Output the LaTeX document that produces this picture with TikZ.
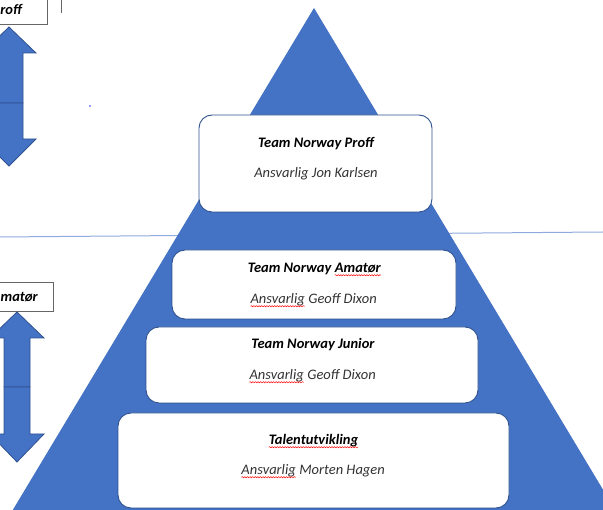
\documentclass[tikz,border=0pt]{standalone}
\usepackage{fontspec}
\setmainfont{Carlito}[ItalicFont={Carlito Italic}, BoldFont={Carlito Bold}, BoldItalicFont={Carlito Bold Italic}]
\usetikzlibrary{decorations.pathmorphing}
\newcommand\spellwave[1]{\tikz[baseline=(w.base)]{\node[inner sep=0pt, outer sep=0pt, anchor=base west, draw=none] (w) at (0,0) {#1};
  \draw[red, line width=0.5pt, decorate, decoration={snake, amplitude=0.6pt, segment length=2.6pt}] ([yshift=-2.2pt]w.base west) -- ([yshift=-2.2pt]w.base east);}}
\definecolor{pyrblue}{HTML}{4472C4}
\definecolor{edgeblue}{HTML}{2F528F}
\definecolor{lineblue}{HTML}{8FAADC}
\tikzset{
  tbox/.style={draw=edgeblue, line width=0.9pt, fill=white, rounded corners=13pt, inner sep=0pt},
  ttl/.style={font=\fontsize{14.5}{17}\selectfont\bfseries\itshape, anchor=base, inner sep=0pt},
  sub/.style={font=\fontsize{14.5}{17}\selectfont\itshape, text=black!80, anchor=base, inner sep=0pt},
  sidebox/.style={draw=gray!80!black, line width=0.8pt, fill=white},
  arr/.style={fill=pyrblue, draw=edgeblue, line width=0.8pt, line join=miter}
}
\begin{document}
\begin{tikzpicture}[x=1pt,y=-1pt]
\useasboundingbox (0,0) rectangle (603,510);
\clip (0,0) rectangle (603,510);
% thin horizontal line behind pyramid
\coordinate (la) at (0,237);
\coordinate (lb) at (603,232);
\draw[lineblue, line width=1pt] (la) -- (lb);
% pyramid
\fill[pyrblue] (314,8) -- (2,528) -- (626,528) -- cycle;
% boxes
\node[tbox, minimum width=233pt, minimum height=97pt] (b1) at (315.5,163.5) {};
\node[tbox, minimum width=284pt, minimum height=69pt] (b2) at (314,284.5) {};
\node[tbox, minimum width=332pt, minimum height=76pt] (b3) at (312,365) {};
\node[tbox, minimum width=391pt, minimum height=95pt] (b4) at (313.5,460.5) {};
% texts
\node[ttl] (t1) at (316,148) {Team Norway Proff};
\node[sub] (s1) at (316,178) {Ansvarlig Jon Karlsen};
\node[ttl] (t2) at (314.5,273) {Team Norway \spellwave{Amatør}};
\node[sub] (s2) at (313.5,304) {\spellwave{Ansvarlig} Geoff Dixon};
\node[ttl] (t3) at (313,349) {Team Norway Junior};
\node[sub] (s3) at (312.5,380) {\spellwave{Ansvarlig} Geoff Dixon};
\node[ttl] (t4) at (313.5,445) {\spellwave{Talentutvikling}};
\node[sub] (s4) at (313,475) {\spellwave{Ansvarlig} Morten Hagen};
% left side boxes
\draw[sidebox] (-10,-10) rectangle (47,24);
\node[ttl, anchor=base east] (lp) at (22,15) {roff};
\draw[gray!80!black, line width=0.8pt] (61,-2) -- (61,13);
\draw[sidebox] (-10,282) rectangle (53,311);
\node[ttl, anchor=base east] (la2) at (38,302) {matør};
% double arrows
\draw[arr] (23,103) -- (23,53) -- (36,53) -- (9,27) -- (-18,53) -- (-5,53) -- (-5,103) -- cycle;
\draw[arr] (23,103) -- (23,139) -- (36,139) -- (9,166) -- (-18,139) -- (-5,139) -- (-5,103) -- cycle;
\draw[arr] (30,387) -- (30,338) -- (44,338) -- (17,312) -- (-10,338) -- (4,338) -- (4,387) -- cycle;
\draw[arr] (30,387) -- (30,434) -- (44,434) -- (17,462) -- (-10,434) -- (4,434) -- (4,387) -- cycle;
% small dot
\fill[blue!80] (90,106) circle (0.8);
\end{tikzpicture}
\end{document}
